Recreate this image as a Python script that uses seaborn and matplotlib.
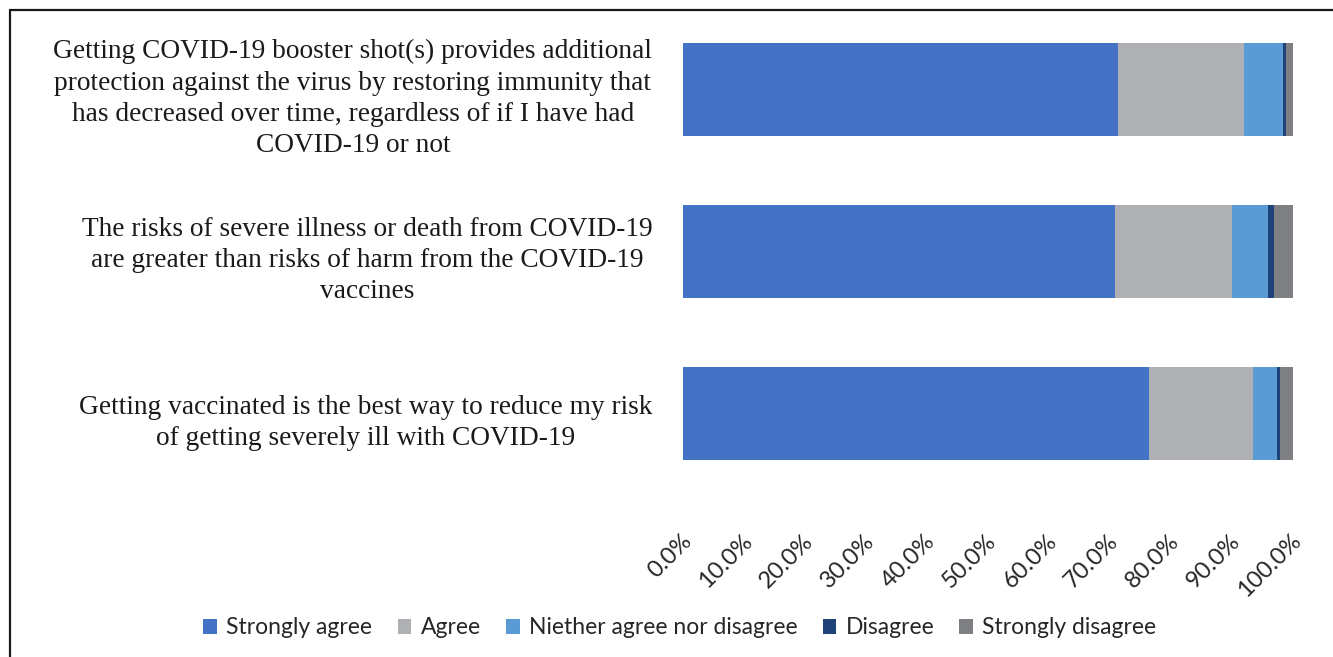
import matplotlib
matplotlib.use("Agg")
import matplotlib.pyplot as plt
from matplotlib.lines import Line2D
from matplotlib.patches import Patch
from matplotlib.transforms import ScaledTranslation
import numpy as np
import pandas as pd
import seaborn as sns

# Survey statements (top to bottom)
statements = [
    "Getting COVID-19 booster shot(s) provides additional\nprotection against the virus by restoring immunity that\nhas decreased over time, regardless of if I have had\nCOVID-19 or not",
    "The risks of severe illness or death from COVID-19\nare greater than risks of harm from the COVID-19\nvaccines",
    "Getting vaccinated is the best way to reduce my risk\nof getting severely ill with COVID-19",
]

# Response shares (%) per statement
responses = ["Strongly agree", "Agree", "Niether agree nor disagree", "Disagree", "Strongly disagree"]
strongly_agree = [71.3, 70.8, 76.4]
agree = [20.7, 19.2, 17.0]
neither = [6.4, 5.9, 3.9]
disagree = [0.5, 1.0, 0.5]
strongly_disagree = [1.1, 3.1, 2.2]

colors = ["#4472C4", "#AFB0B3", "#5B9BD5", "#1F4378", "#7F8084"]
x_ticks = [0, 10, 20, 30, 40, 50, 60, 70, 80, 90, 100]

sns.set_theme(style="white")

W, H = 1333, 657
fig = plt.figure(figsize=(W / 100, H / 100), dpi=100)
ax = fig.add_axes([683 / W, (H - 494.5) / H, 610 / W, 486 / H])

series = [strongly_agree, agree, neither, disagree, strongly_disagree]
df = pd.DataFrame({"statement": statements})
for name, vals in zip(responses, series):
    df[name] = vals

# Stacked bars: draw cumulative totals from the outermost segment inward
cum = df[responses].cumsum(axis=1)
for name, col in reversed(list(zip(responses, colors))):
    sns.barplot(data=cum.assign(statement=df["statement"]), x=name, y="statement",
                orient="h", color=col, width=0.574, saturation=1, ax=ax,
                edgecolor="none", linewidth=0)

ax.set_xlim(0, 100)
ax.set_ylim(2.5, -0.5)
ax.set_xlabel("")
ax.set_ylabel("")
for s in ax.spines.values():
    s.set_visible(False)

ax.set_xticks(x_ticks)
ax.set_xticklabels([f"{t:.1f}%" for t in x_ticks], rotation=45, ha="right",
                   va="center", rotation_mode="anchor",
                   fontfamily="Lato", fontsize=17, color="#262626")
ax.tick_params(axis="x", length=0, pad=31)
off = ScaledTranslation(5 / 100, 0, fig.dpi_scale_trans)
for lab in ax.get_xticklabels():
    lab.set_transform(lab.get_transform() + off)

ax.set_yticks(range(len(statements)))
ax.set_yticklabels(statements, fontfamily="Liberation Serif", fontsize=19.7,
                   color="#1a1a1a", multialignment="center", linespacing=1.33)
ax.tick_params(axis="y", length=0, pad=22)
yoff = ScaledTranslation(0, -3 / 100, fig.dpi_scale_trans)
for lab in ax.get_yticklabels():
    lab.set_transform(lab.get_transform() + yoff)

# Legend
handles = [Patch(facecolor=c, edgecolor="none") for c in colors]
fig.legend(handles, responses, loc="center", bbox_to_anchor=(680 / W, 1 - 628 / H),
           ncol=5, frameon=False, prop={"family": "Lato", "size": 16.5},
           handlelength=0.6, handleheight=0.6, handletextpad=0.4,
           columnspacing=1.1, labelcolor="#262626")

# Outer frame (top and left edges)
fig.add_artist(Line2D([9.5 / W, 9.5 / W], [0, 1 - 10 / H], transform=fig.transFigure,
                      color="#1a1a1a", lw=1.6))
fig.add_artist(Line2D([9.5 / W, 1], [1 - 10 / H, 1 - 10 / H], transform=fig.transFigure,
                      color="#1a1a1a", lw=1.6))

fig.savefig("out.png", dpi=100)
